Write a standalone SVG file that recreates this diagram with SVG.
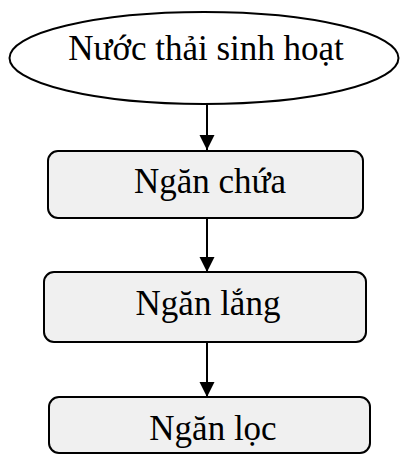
<svg xmlns="http://www.w3.org/2000/svg" width="400" height="455" viewBox="0 0 400 455">
<style>
.n{fill:#f0f0f0;stroke:#000;stroke-width:2}
.e{fill:#fff;stroke:#000;stroke-width:2}
.t{font-family:"Liberation Serif","Times New Roman",serif;font-size:35px;fill:#000;text-anchor:middle}
.c{stroke:#000;stroke-width:2;fill:none;marker-end:url(#ah)}
</style>
<defs>
<marker id="ah" markerUnits="userSpaceOnUse" markerWidth="16" markerHeight="16" refX="15" refY="8" orient="auto" viewBox="0 0 16 16">
<path d="M0,0.5 L15,8 L0,15.5 Z" fill="#000"/>
</marker>
</defs>
<rect width="400" height="455" fill="#fff"/>
<g id="connectors">
<line class="c" x1="207" y1="104" x2="207" y2="150"/>
<line class="c" x1="207" y1="218" x2="207" y2="272"/>
<line class="c" x1="207" y1="342" x2="207" y2="397"/>
</g>
<g id="node-nuoc-thai">
<ellipse class="e" cx="204" cy="58" rx="194.5" ry="46"/>
<text class="t" x="206" y="60">Nước thải sinh hoạt</text>
</g>
<g id="node-ngan-chua">
<rect class="n" x="48" y="151" width="315" height="67" rx="10"/>
<text class="t" x="210" y="193">Ngăn chứa</text>
</g>
<g id="node-ngan-lang">
<rect class="n" x="44" y="272" width="322" height="70" rx="10"/>
<text class="t" x="208" y="315">Ngăn lắng</text>
</g>
<g id="node-ngan-loc">
<rect class="n" x="49" y="397" width="321" height="56" rx="10"/>
<text class="t" x="213" y="440">Ngăn lọc</text>
</g>
</svg>
